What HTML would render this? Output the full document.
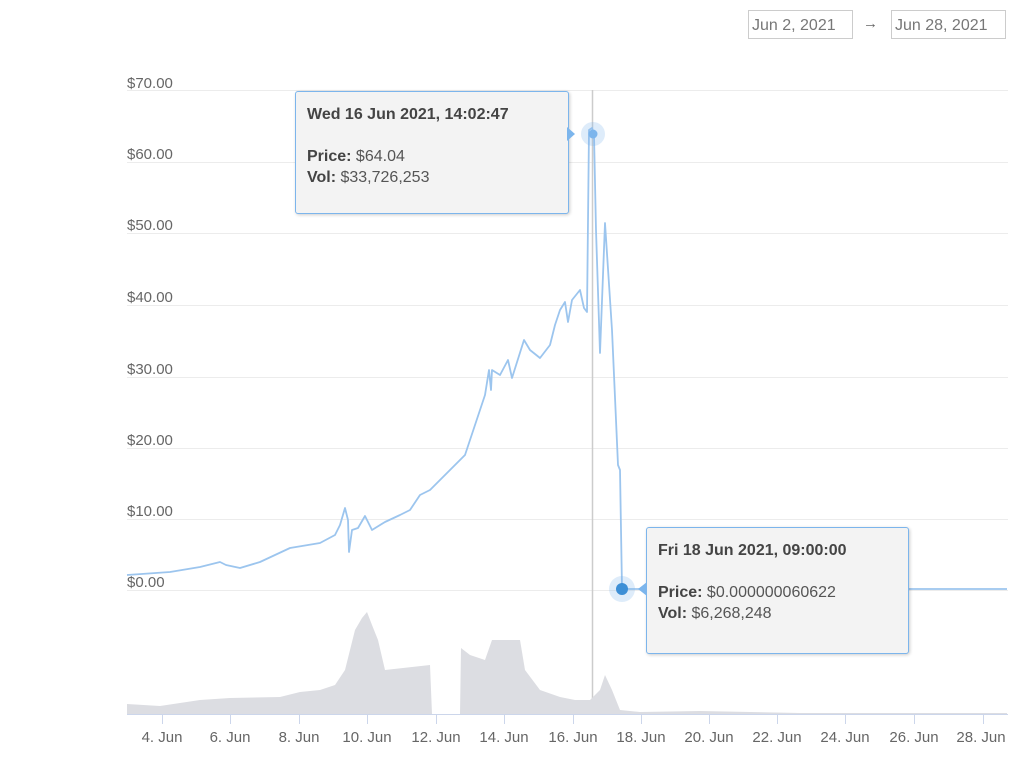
<!DOCTYPE html>
<html><head><meta charset="utf-8"><style>
body{margin:0;background:#fff;width:1024px;height:768px;overflow:hidden;font-family:"Liberation Sans",sans-serif;}
.inp{position:absolute;top:10px;height:29px;border:1px solid #ccc;color:#777;font-size:16px;line-height:29px;padding:0 3px;box-sizing:border-box;}
.tt{position:absolute;background:#f3f3f3;border:1px solid #7cb5ec;border-radius:3px;box-shadow:1px 1px 3px rgba(0,0,0,.2);color:#333;font-size:16px;box-sizing:border-box;padding:12px 11px;line-height:21px;}
.tt b{color:#444}.tt span{color:#555}
</style></head><body>
<div class="inp" style="left:748px;width:105px">Jun 2, 2021</div>
<div style="position:absolute;left:863px;top:15px;color:#666;font-size:15px">→</div>
<div class="inp" style="left:891px;width:115px">Jun 28, 2021</div>
<svg width="1024" height="768" style="position:absolute;left:0;top:0" font-family="Liberation Sans, sans-serif">
<g stroke="#ececec" stroke-width="1">
<line x1="127" x2="1008" y1="90.5" y2="90.5"/><line x1="127" x2="1008" y1="162.5" y2="162.5"/>
<line x1="127" x2="1008" y1="233.5" y2="233.5"/><line x1="127" x2="1008" y1="305.5" y2="305.5"/>
<line x1="127" x2="1008" y1="377.5" y2="377.5"/><line x1="127" x2="1008" y1="448.5" y2="448.5"/>
<line x1="127" x2="1008" y1="519.5" y2="519.5"/><line x1="127" x2="1008" y1="590.5" y2="590.5"/>
</g>
<g fill="#666" font-size="15">
<text x="127" y="88">$70.00</text><text x="127" y="159">$60.00</text><text x="127" y="230">$50.00</text>
<text x="127" y="302">$40.00</text><text x="127" y="374">$30.00</text><text x="127" y="445">$20.00</text>
<text x="127" y="516">$10.00</text><text x="127" y="587">$0.00</text>
</g>
<line x1="592.5" x2="592.5" y1="90" y2="714" stroke="#ccc" stroke-width="1.5"/>
<polygon fill="#dcdde2" points="127,714 127,704 160,706 200,700 230,698 280,697 300,692 320,690 335,685 345,670 350,650 355,630 362,618 367,612 372,625 378,640 385,670 430,665 432,714 460,714 461,648 470,655 485,660 492,640 520,640 525,670 540,690 560,697 575,700 590,700 600,690 605,675 612,690 620,710 640,712 700,711 800,713 1007,713 1007,714"/>
<line x1="127" x2="1008" y1="714.5" y2="714.5" stroke="#ccd6eb"/>
<g stroke="#ccd6eb"><line x1="162.5" x2="162.5" y1="714" y2="724"/><line x1="230.5" x2="230.5" y1="714" y2="724"/><line x1="299.5" x2="299.5" y1="714" y2="724"/><line x1="367.5" x2="367.5" y1="714" y2="724"/><line x1="436.5" x2="436.5" y1="714" y2="724"/><line x1="504.5" x2="504.5" y1="714" y2="724"/><line x1="573.5" x2="573.5" y1="714" y2="724"/><line x1="641.5" x2="641.5" y1="714" y2="724"/><line x1="709.5" x2="709.5" y1="714" y2="724"/><line x1="777.5" x2="777.5" y1="714" y2="724"/><line x1="845.5" x2="845.5" y1="714" y2="724"/><line x1="914.5" x2="914.5" y1="714" y2="724"/><line x1="983.5" x2="983.5" y1="714" y2="724"/></g>
<g fill="#666" font-size="15" text-anchor="middle">
<text x="162" y="742">4. Jun</text><text x="230" y="742">6. Jun</text><text x="299" y="742">8. Jun</text><text x="367" y="742">10. Jun</text><text x="436" y="742">12. Jun</text><text x="504" y="742">14. Jun</text><text x="573" y="742">16. Jun</text><text x="641" y="742">18. Jun</text><text x="709" y="742">20. Jun</text><text x="777" y="742">22. Jun</text><text x="845" y="742">24. Jun</text><text x="914" y="742">26. Jun</text><text x="981" y="742">28. Jun</text>
</g>
<polyline fill="none" stroke="#9cc5ee" stroke-width="1.8" stroke-linejoin="round" points="127,575 170,572 200,567 220,562 226,565 240,568 260,562 290,548 320,543 335,535 340,525 345,508 348,520 349,552 352,530 358,528 365,516 372,530 385,522 400,515 410,510 420,495 430,490 445,475 465,455 470,440 475,425 480,410 485,395 489,370 491,390 492,370 500,375 508,360 512,378 524,340 530,350 540,358 550,345 555,325 560,310 565,302 568,322 572,300 580,290 584,308 587,312 589,130 592,128 594,135 596,230 600,353 605,223 612,330 618,465 620,470 622,589 1007,589"/>
<circle cx="593" cy="134" r="12" fill="#7cb5ec" fill-opacity=".25"/>
<circle cx="593" cy="134" r="4.5" fill="#7cb5ec"/>
<circle cx="622" cy="589" r="13" fill="#7cb5ec" fill-opacity=".25"/>
<circle cx="622" cy="589" r="6" fill="#3d8fd6"/>
</svg>
<div class="tt" style="left:295px;top:91px;width:274px;height:123px"><b>Wed 16 Jun 2021, 14:02:47</b><br><br><b>Price:</b> <span>$64.04</span><br><b>Vol:</b> <span>$33,726,253</span></div>
<div style="position:absolute;left:567px;top:127px;width:0;height:0;border-top:7px solid transparent;border-bottom:7px solid transparent;border-left:8px solid #7cb5ec"></div>
<div class="tt" style="left:646px;top:527px;width:263px;height:127px"><b>Fri 18 Jun 2021, 09:00:00</b><br><br><b>Price:</b> <span>$0.000000060622</span><br><b>Vol:</b> <span>$6,268,248</span></div>
<div style="position:absolute;left:638px;top:582px;width:0;height:0;border-top:7px solid transparent;border-bottom:7px solid transparent;border-right:9px solid #7cb5ec"></div>
</body></html>
